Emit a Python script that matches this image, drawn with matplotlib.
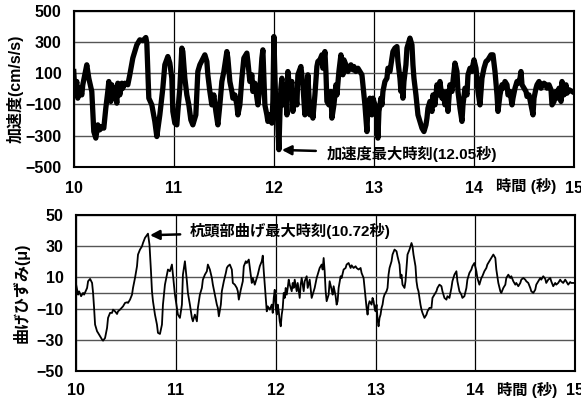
import numpy as np
import matplotlib
matplotlib.use('Agg')
import matplotlib.pyplot as plt

plt.rcParams['font.family'] = ['Liberation Sans', 'Noto Sans CJK JP']
plt.rcParams['font.weight'] = 'bold'

# 加速度 (cm/s/s)
t_acc = [10.00, 10.01, 10.03, 10.04, 10.06, 10.08, 10.09, 10.11, 10.13, 10.15,
         10.18, 10.20, 10.22, 10.24, 10.26, 10.28, 10.30, 10.32, 10.34, 10.35,
         10.37, 10.38, 10.39, 10.41, 10.43, 10.44, 10.46, 10.48, 10.49, 10.51,
         10.54, 10.56, 10.59, 10.63, 10.66, 10.69, 10.72, 10.73, 10.75, 10.78,
         10.81, 10.83, 10.86, 10.89, 10.91, 10.94, 10.96, 10.98, 10.99, 11.01,
         11.03, 11.04, 11.06, 11.08, 11.09, 11.11, 11.13, 11.15, 11.17, 11.19,
         11.22, 11.24, 11.26, 11.31, 11.33, 11.34, 11.36, 11.38, 11.40, 11.42,
         11.44, 11.46, 11.48, 11.50, 11.53, 11.54, 11.56, 11.58, 11.59, 11.61,
         11.63, 11.64, 11.66, 11.68, 11.70, 11.73, 11.74, 11.76, 11.78, 11.79,
         11.81, 11.83, 11.84, 11.86, 11.88, 11.89, 11.91, 11.93, 11.94, 11.96,
         11.98, 11.99, 12.00, 12.02, 12.03, 12.04, 12.05, 12.06, 12.07, 12.08,
         12.09, 12.10, 12.12, 12.13, 12.14, 12.16, 12.18, 12.19, 12.21, 12.23,
         12.24, 12.27, 12.29, 12.31, 12.33, 12.34, 12.36, 12.38, 12.39, 12.41,
         12.43, 12.44, 12.46, 12.48, 12.49, 12.51, 12.52, 12.53, 12.55, 12.57,
         12.58, 12.60, 12.62, 12.63, 12.65, 12.67, 12.69, 12.70, 12.72, 12.74,
         12.77, 12.79, 12.80, 12.82, 12.84, 12.86, 12.88, 12.89, 12.91, 12.93,
         12.94, 12.96, 12.98, 12.99, 13.01, 13.03, 13.04, 13.05, 13.07, 13.08,
         13.09, 13.11, 13.13, 13.14, 13.16, 13.18, 13.19, 13.21, 13.23, 13.24,
         13.26, 13.27, 13.28, 13.29, 13.30, 13.32, 13.33, 13.35, 13.36, 13.38,
         13.39, 13.40, 13.42, 13.43, 13.44, 13.46, 13.48, 13.50, 13.52, 13.53,
         13.54, 13.56, 13.58, 13.59, 13.61, 13.63, 13.64, 13.66, 13.68, 13.69,
         13.71, 13.73, 13.74, 13.76, 13.78, 13.79, 13.81, 13.83, 13.84, 13.86,
         13.88, 13.89, 13.91, 13.93, 13.94, 13.96, 13.98, 13.99, 14.00, 14.02,
         14.03, 14.04, 14.06, 14.07, 14.08, 14.10, 14.12, 14.14, 14.17, 14.19,
         14.21, 14.23, 14.24, 14.26, 14.28, 14.29, 14.31, 14.33, 14.34, 14.36,
         14.38, 14.39, 14.41, 14.43, 14.44, 14.46, 14.47, 14.48, 14.50, 14.52,
         14.53, 14.55, 14.57, 14.59, 14.60, 14.62, 14.63, 14.65, 14.67, 14.68,
         14.70, 14.72, 14.73, 14.75, 14.77, 14.78, 14.80, 14.82, 14.83, 14.85,
         14.87, 14.88, 14.90, 14.92, 14.93, 14.95, 14.98]
acc = [111, -17, 47, -60, 4, -39, 26, 90, 154, 68,
       -17, -274, -316, -231, -263, -242, -252, -124, -17, 47,
       -81, 26, -60, 4, -92, 36, -39, 36, 4, 36,
       26, 90, 197, 282, 314, 308, 329, 293, -60, -103,
       -209, -306, -167, 4, 154, 207, 165, 68, -145, -220,
       -231, -145, 4, 261, 239, 68, -39, -103, -199, -231,
       -167, 111, 154, 218, 175, 90, -17, -103, -39, -145,
       -231, -103, 47, 111, 239, 197, 47, -17, -60, -39,
       -103, -167, -103, 68, 197, 229, 175, 47, 90, -17,
       36, -60, -103, 4, 197, 250, -103, -167, -209, -167,
       -220, -81, 335, -145, -81, -231, -390, -167, 4, 68,
       -103, 26, -39, -167, 111, -17, 47, -145, -17, -103,
       90, 143, 26, -167, -81, 90, -167, -103, -188, -39,
       143, 175, 186, 218, 132, 239, 111, -81, -103, -17,
       -188, -103, 26, -39, 111, 218, 90, 186, 154, 111,
       154, 122, 143, 111, 132, 111, 90, 26, -103, -274,
       -103, -60, -167, -60, -103, -188, -316, -145, -60, -103,
       -17, 47, 68, 132, 111, 197, 239, 261, 271, 175,
       68, -17, 90, -60, 47, 154, 261, 303, 325, 282,
       154, 68, -39, -103, -167, -209, -252, -274, -231, -188,
       -124, -81, -145, -39, -103, 26, -39, 47, -60, -17,
       -103, -17, -145, 26, -17, 47, 165, 111, -17, -124,
       -209, -103, 4, -39, 90, 132, 111, 154, 186, 132,
       68, -17, -103, -17, 68, 132, 175, 186, 218, 218,
       111, -39, -145, -39, 26, 4, 47, 26, -39, -17,
       -103, -60, 4, 47, 36, 68, 111, 26, 4, -17,
       -49, -39, -103, -167, -60, 4, 26, 47, 4, 26,
       36, 26, 4, 26, -6, -103, -81, -17, -60, 4,
       -81, 47, -39, 26, -28, -6, -17]

# 曲げひずみ (μ)
t_str = [10.00, 10.02, 10.03, 10.05, 10.07, 10.08, 10.11, 10.12, 10.14, 10.16,
         10.17, 10.18, 10.19, 10.21, 10.22, 10.24, 10.26, 10.27, 10.29, 10.31,
         10.32, 10.34, 10.36, 10.37, 10.39, 10.41, 10.42, 10.44, 10.47, 10.49,
         10.51, 10.52, 10.54, 10.56, 10.57, 10.59, 10.61, 10.62, 10.64, 10.66,
         10.67, 10.69, 10.72, 10.735, 10.75, 10.76, 10.77, 10.79, 10.81, 10.82,
         10.84, 10.86, 10.87, 10.89, 10.91, 10.92, 10.94, 10.96, 10.97, 10.99,
         11.01, 11.02, 11.04, 11.06, 11.07, 11.09, 11.11, 11.12, 11.14, 11.16,
         11.17, 11.19, 11.21, 11.22, 11.24, 11.26, 11.27, 11.29, 11.31, 11.32,
         11.34, 11.36, 11.37, 11.39, 11.41, 11.42, 11.43, 11.45, 11.46, 11.48,
         11.50, 11.51, 11.52, 11.54, 11.56, 11.57, 11.59, 11.61, 11.62, 11.63,
         11.65, 11.67, 11.68, 11.70, 11.71, 11.73, 11.75, 11.76, 11.77, 11.79,
         11.81, 11.82, 11.84, 11.86, 11.87, 11.88, 11.90, 11.91, 11.92, 11.94,
         11.96, 11.97, 11.98, 11.99, 12.00, 12.01, 12.02, 12.03, 12.04, 12.05,
         12.06, 12.07, 12.08, 12.09, 12.10, 12.11, 12.12, 12.13, 12.14, 12.16,
         12.17, 12.18, 12.19, 12.21, 12.22, 12.24, 12.25, 12.26, 12.28, 12.29,
         12.31, 12.32, 12.34, 12.36, 12.37, 12.39, 12.41, 12.42, 12.44, 12.46,
         12.47, 12.48, 12.49, 12.50, 12.51, 12.53, 12.54, 12.56, 12.57, 12.58,
         12.60, 12.61, 12.62, 12.63, 12.65, 12.66, 12.68, 12.70, 12.71, 12.73,
         12.75, 12.76, 12.78, 12.80, 12.81, 12.83, 12.85, 12.86, 12.88, 12.89,
         12.90, 12.91, 12.92, 12.93, 12.94, 12.96, 12.97, 12.98, 12.99, 13.00,
         13.01, 13.02, 13.03, 13.04, 13.05, 13.06, 13.07, 13.08, 13.09, 13.11,
         13.12, 13.13, 13.14, 13.16, 13.17, 13.19, 13.21, 13.22, 13.24, 13.25,
         13.26, 13.27, 13.29, 13.30, 13.31, 13.32, 13.34, 13.36, 13.37, 13.38,
         13.40, 13.41, 13.42, 13.43, 13.44, 13.45, 13.46, 13.47, 13.49, 13.51,
         13.52, 13.54, 13.56, 13.57, 13.59, 13.61, 13.62, 13.64, 13.66, 13.67,
         13.69, 13.71, 13.72, 13.74, 13.76, 13.77, 13.79, 13.81, 13.82, 13.84,
         13.86, 13.87, 13.89, 13.91, 13.92, 13.94, 13.96, 13.97, 13.99, 14.01,
         14.02, 14.04, 14.06, 14.07, 14.09, 14.11, 14.12, 14.14, 14.16, 14.18,
         14.20, 14.21, 14.23, 14.25, 14.26, 14.28, 14.30, 14.31, 14.33, 14.35,
         14.36, 14.38, 14.40, 14.41, 14.43, 14.45, 14.46, 14.48, 14.50, 14.51,
         14.53, 14.55, 14.56, 14.58, 14.60, 14.61, 14.63, 14.65, 14.66, 14.68,
         14.70, 14.71, 14.73, 14.75, 14.76, 14.78, 14.80, 14.81, 14.83, 14.85,
         14.86, 14.88, 14.90, 14.91, 14.93, 14.95, 14.96, 14.98]
strain = [5.3, -1.1, 1.0, -2.1, 0.0, -1.1, 3.2, 7.5, 9.0, 6.4,
          0.0, -9.6, -20.3, -24.6, -25.6, -27.8, -29.9, -30.6, -28.9, -22.4,
          -16.0, -12.8, -12.8, -10.7, -11.8, -13.5, -11.8, -10.7, -8.6, -6.4,
          -6.0, -6.4, -4.3, -1.1, 3.2, 9.6, 17.1, 24.6, 27.8, 29.9,
          32.0, 35.3, 38.0, 31.0, 14.0, 1.1, -5.3, -13.9, -20.3, -25.6,
          -26.3, -20.3, -7.5, 5.3, 11.7, 15.0, 13.9, 18.2, 11.7, -1.1,
          -9.6, -13.9, -16.0, -7.5, 11.7, 20.3, 7.5, 0.0, -7.5, -16.0,
          -18.2, -13.9, -18.2, -9.6, -1.1, 3.2, 8.5, 11.7, 13.9, 18.2,
          15.0, 9.6, 5.3, -1.1, -7.5, -9.6, -15.0, -7.5, 1.1, 7.5,
          12.8, 16.0, 17.1, 18.2, 15.0, 6.4, 5.3, 3.2, 1.1, -4.3,
          2.1, 7.5, 17.1, 20.3, 19.2, 21.4, 11.7, 6.4, 9.6, 5.3,
          9.6, 11.7, 17.1, 20.3, 23.9, 13.9, -3.2, -11.8, -8.6, -10.7,
          -7.5, -12.8, -3.2, 2.0, -9.6, -13.9, -7.5, -11.8, -18.2, -21.4,
          -13.9, -9.6, 0.0, -3.2, 3.2, -1.1, 3.2, 8.5, 5.3, 1.1,
          6.4, 3.2, 8.5, 1.1, 6.4, -3.2, 5.3, 9.6, 1.1, 7.5,
          10.7, 3.2, 8.5, -3.2, -1.1, 3.2, 9.6, 11.7, 16.0, 18.2,
          15.0, 22.4, 13.9, 1.1, -5.3, -1.1, 7.5, 2.1, -1.1, 4.3,
          -2.1, -7.5, -5.3, 3.2, 10.7, 9.6, 15.0, 16.0, 18.2, 19.2,
          16.0, 17.7, 16.0, 17.1, 16.0, 15.0, 16.0, 12.8, 9.6, 3.2,
          -3.2, -9.6, -13.9, -7.5, -5.3, -7.5, -3.2, -5.3, -9.6, -11.8,
          -7.5, -17.1, -21.4, -16.0, -13.9, -9.6, -7.5, -3.2, -1.1, 1.1,
          3.2, 11.7, 16.0, 20.3, 24.6, 27.8, 26.7, 23.5, 18.2, 9.6,
          11.7, 5.3, 3.2, 7.5, 16.0, 24.6, 27.8, 32.0, 29.9, 24.6,
          17.1, 7.5, 3.2, 1.1, -3.2, -7.5, -10.7, -12.8, -16.0, -13.9,
          -11.8, -9.6, -9.6, -3.2, -1.1, 1.1, 3.2, 5.3, 4.3, 1.1,
          -3.2, -4.3, -2.1, -3.2, 3.2, 7.5, 11.7, 13.9, 7.5, 1.1,
          -1.1, -3.2, -2.1, 3.2, 8.5, 12.8, 15.0, 17.1, 19.2, 13.9,
          9.6, 5.3, 9.6, 10.7, 13.9, 16.0, 18.2, 20.3, 22.4, 24.6,
          22.4, 15.0, 6.4, 1.1, 0.0, 3.2, 5.3, 9.6, 11.7, 9.6,
          10.7, 7.5, 5.3, 6.4, 4.3, 6.4, 8.5, 9.6, 8.5, 7.5,
          6.4, 3.2, 1.1, 0.0, 2.1, 5.3, 7.5, 9.6, 8.5, 10.7,
          9.0, 6.4, 8.5, 9.6, 7.5, 4.3, 6.4, 5.3, 6.4, 8.5,
          7.5, 6.4, 8.5, 7.5, 5.3, 7.0, 6.4, 6.4]

x_ticks = [10, 11, 12, 13, 14, 15]
acc_ticks = [500, 300, 100, -100, -300, -500]
str_ticks = [50, 30, 10, -10, -30, -50]

fig = plt.figure(figsize=(5.81, 4.01), dpi=100)
ax1 = fig.add_axes([0.127, 0.584, 0.861, 0.389])
ax2 = fig.add_axes([0.131, 0.075, 0.859, 0.389])


def style(ax, yticks, ylim, xpad):
    ax.set_xlim(10, 15)
    ax.set_ylim(*ylim)
    ax.set_xticks(x_ticks)
    ax.set_yticks(yticks)
    ax.set_yticks([0], minor=True)
    ax.tick_params(which='both', length=0, labelsize=11.5)
    ax.tick_params(axis='x', pad=xpad)
    ax.tick_params(axis='y', pad=9)
    ax.yaxis.grid(True, which='both', color='#555555', lw=1.0)
    ax.xaxis.grid(True, color='black', lw=0.9)
    ax.set_axisbelow(True)
    for s in ax.spines.values():
        s.set_linewidth(1.5)
    for lab in ax.get_xticklabels() + ax.get_yticklabels():
        lab.set_fontweight('bold')
    ax.text(0.964, -0.125, '時間 (秒)', transform=ax.transAxes,
            fontsize=11, fontweight='bold', va='center', ha='right')


style(ax1, acc_ticks, (-500, 500), 10)
ax1.plot(t_acc, acc, color='black', lw=3.8, solid_joinstyle='round')
ax1.set_ylabel('加速度(cm/s/s)', fontsize=11.5, fontweight='bold', labelpad=1)
ax1.annotate('加速度最大時刻(12.05秒)', xy=(12.08, -392), xytext=(12.53, -415),
             fontsize=11, fontweight='bold', va='center', ha='left',
             arrowprops=dict(arrowstyle='-|>', color='black', lw=1.8,
                             mutation_scale=14, shrinkA=6, shrinkB=0))

style(ax2, str_ticks, (-50, 50), 9)
ax2.plot(t_str, strain, color='black', lw=1.3)
ax2.set_ylabel('曲げひずみ(μ)', fontsize=11.5, fontweight='bold', labelpad=5)
ax2.annotate('杭頭部曲げ最大時刻(10.72秒)', xy=(10.74, 37), xytext=(11.14, 39.5),
             fontsize=11, fontweight='bold', va='center', ha='left',
             arrowprops=dict(arrowstyle='-|>', color='black', lw=1.8,
                             mutation_scale=14, shrinkA=5, shrinkB=0))

fig.savefig('out.png', dpi=100)
